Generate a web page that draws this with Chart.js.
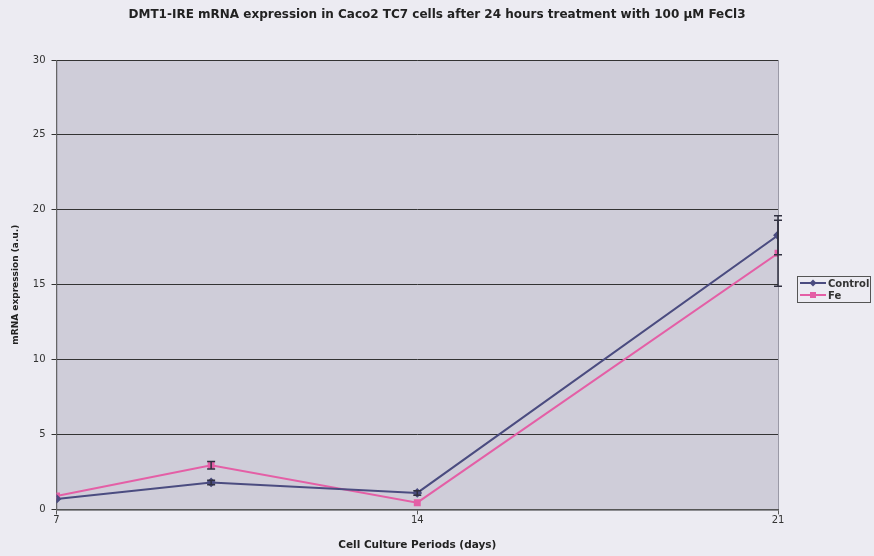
<!DOCTYPE html>
<html>
<head>
<meta charset="utf-8">
<script src="https://cdn.jsdelivr.net/npm/chart.js@4/dist/chart.umd.min.js"></script>
<style>
    html, body { margin: 0; padding: 0; background: #ecebf2; }
    #wrap { width: 874px; height: 556px; }
</style>
</head>
<body>
<div id="wrap"><canvas id="myChart" width="874" height="556"></canvas></div>
<script>
const days = [7, 10, 14, 21];
const dayTicks = [7, 14, 21];
const controlValues = [0.7, 1.8, 1.1, 18.3];
const controlErrors = [0, 0.15, 0.15, 1.3];
const feValues = [0.9, 2.95, 0.45, 17.1];
const feErrors = [0, 0.25, 0, 2.2];

const chartTitle = 'DMT1-IRE mRNA expression in Caco2 TC7 cells after 24 hours treatment with 100 \u00b5M FeCl3';
const controlColor = '#4b4c80';
const feColor = '#e45fa6';
const fontFamily = 'DejaVu Sans';

const plotBackground = {
    id: 'plotBackground',
    beforeDraw(chart) {
        const { ctx, chartArea: a } = chart;
        ctx.save();
        ctx.fillStyle = '#cfcdd9';
        ctx.fillRect(a.left, a.top, a.right - a.left, a.bottom - a.top);
        ctx.strokeStyle = '#9a99a6';
        ctx.lineWidth = 1;
        ctx.strokeRect(a.left + 0.5, a.top + 0.5, a.right - a.left, a.bottom - a.top);
        ctx.restore();
    }
};

// title centred on the whole canvas, not just on the plot + padding
const pageTitle = {
    id: 'pageTitle',
    afterDraw(chart) {
        const ctx = chart.ctx;
        ctx.save();
        ctx.font = 'bold 12px ' + fontFamily;
        ctx.fillStyle = '#222';
        ctx.textAlign = 'center';
        ctx.textBaseline = 'middle';
        ctx.fillText(chartTitle, chart.width / 2, 15);
        ctx.restore();
    }
};

const errorBars = {
    id: 'errorBars',
    afterDatasetsDraw(chart) {
        const { ctx, scales: { x, y } } = chart;
        ctx.save();
        ctx.strokeStyle = '#303040';
        ctx.lineWidth = 1.5;
        chart.data.datasets.forEach(ds => {
            ds.errors.forEach((e, i) => {
                if (!e) return;
                const px = x.getPixelForValue(days[i]);
                const top = y.getPixelForValue(ds.data[i].y + e);
                const bot = y.getPixelForValue(ds.data[i].y - e);
                ctx.beginPath();
                ctx.moveTo(px, top);
                ctx.lineTo(px, bot);
                ctx.moveTo(px - 4, top);
                ctx.lineTo(px + 4, top);
                ctx.moveTo(px - 4, bot);
                ctx.lineTo(px + 4, bot);
                ctx.stroke();
            });
        });
        ctx.restore();
    }
};

// legend drawn by hand: line + marker swatch inside a thin box, right of the plot
const sideLegend = {
    id: 'sideLegend',
    afterDraw(chart) {
        const ctx = chart.ctx;
        const a = chart.chartArea;
        const left = a.right + 19;
        const top = Math.round((a.top + a.bottom) / 2) - 9;
        ctx.save();
        ctx.strokeStyle = '#555';
        ctx.lineWidth = 1;
        ctx.strokeRect(left + 0.5, top + 0.5, 73, 26);
        ctx.font = 'bold 10px ' + fontFamily;
        ctx.textBaseline = 'middle';
        chart.data.datasets.forEach((ds, i) => {
            const cy = top + 7 + i * 12;
            ctx.strokeStyle = ds.borderColor;
            ctx.lineWidth = 2;
            ctx.beginPath();
            ctx.moveTo(left + 3, cy);
            ctx.lineTo(left + 29, cy);
            ctx.stroke();
            ctx.fillStyle = ds.borderColor;
            if (ds.pointStyle === 'rectRot') {
                ctx.beginPath();
                ctx.moveTo(left + 16, cy - 3.5);
                ctx.lineTo(left + 19.5, cy);
                ctx.lineTo(left + 16, cy + 3.5);
                ctx.lineTo(left + 12.5, cy);
                ctx.closePath();
                ctx.fill();
            } else {
                ctx.fillRect(left + 13, cy - 3, 6, 6);
            }
            ctx.fillStyle = '#333';
            ctx.fillText(ds.label, left + 31, cy + 1);
        });
        ctx.restore();
    }
};

const chartData = {
    datasets: [
        {
            label: 'Control',
            data: days.map((d, i) => ({ x: d, y: controlValues[i] })),
            errors: controlErrors,
            borderColor: controlColor,
            backgroundColor: controlColor,
            borderWidth: 2,
            pointStyle: 'rectRot',
            pointRadius: 3.5
        },
        {
            label: 'Fe',
            data: days.map((d, i) => ({ x: d, y: feValues[i] })),
            errors: feErrors,
            borderColor: feColor,
            backgroundColor: feColor,
            borderWidth: 2,
            pointStyle: 'rect',
            pointRadius: 3.5
        }
    ]
};

const config = {
    type: 'line',
    data: chartData,
    options: {
        responsive: false,
        animation: false,
        layout: {
            padding: { top: 60, left: 6, right: 96, bottom: 0 }
        },
        plugins: {
            title: { display: false },
            legend: { display: false },
            tooltip: { enabled: false }
        },
        scales: {
            x: {
                type: 'linear',
                min: 7,
                max: 21,
                afterBuildTicks: axis => {
                    axis.ticks = dayTicks.map(v => ({ value: v }));
                },
                grid: { drawOnChartArea: false, color: '#555', tickLength: 5 },
                border: { color: '#555', width: 1.5 },
                ticks: { color: '#333', font: { family: fontFamily, size: 10 }, padding: 0 },
                title: {
                    display: true,
                    text: 'Cell Culture Periods (days)',
                    color: '#222',
                    font: { family: fontFamily, size: 10.5, weight: 'bold' },
                    padding: { top: 13 }
                }
            },
            y: {
                min: 0,
                max: 30,
                ticks: { stepSize: 5, color: '#333', font: { family: fontFamily, size: 10 }, padding: 6 },
                grid: { color: '#333', lineWidth: 1, tickLength: 5 },
                border: { color: '#666', width: 1 },
                title: {
                    display: true,
                    text: 'mRNA expression (a.u.)',
                    color: '#222',
                    font: { family: fontFamily, size: 9, weight: 'bold' },
                    padding: { bottom: 6 }
                }
            }
        }
    },
    plugins: [plotBackground, errorBars, sideLegend, pageTitle]
};

const ctx = document.getElementById('myChart').getContext('2d');

if (ctx) {
    new Chart(ctx, config);
}
</script>
</body>
</html>
